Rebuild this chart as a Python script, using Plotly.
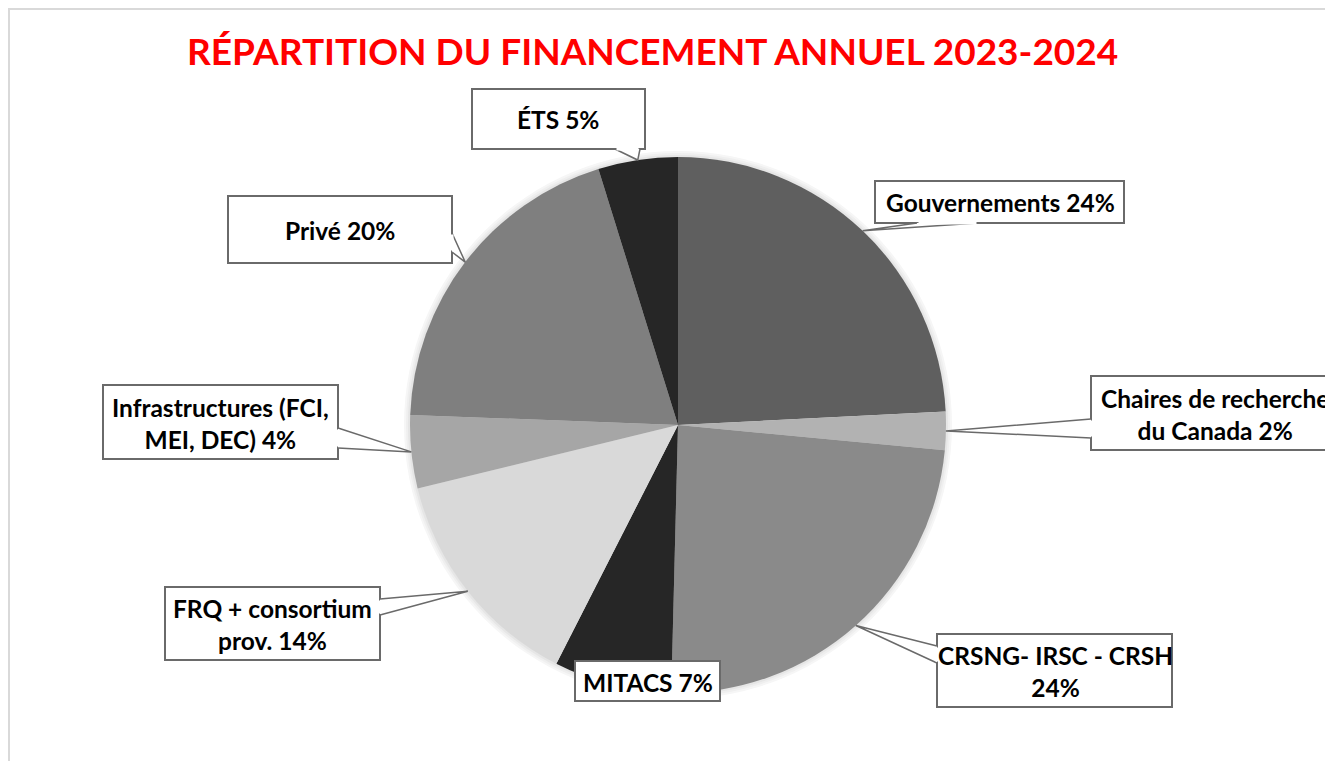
import math
import plotly.graph_objects as go

# ---------------- data ----------------
categories = ["Gouvernements", "Chaires de recherche<br>du Canada", "CRSNG- IRSC - CRSH",
              "MITACS", "FRQ + consortium<br>prov.", "Infrastructures (FCI,<br>MEI, DEC)",
              "Privé", "ÉTS"]
values = [24.2, 2.3, 23.9, 7.1, 13.7, 4.4, 19.6, 4.8]
pct_sep = [" ", " ", "<br>", " ", " ", " ", " ", " "]
colors = ["#5f5f5f", "#b2b2b2", "#8a8a8a", "#262626", "#d9d9d9", "#a6a6a6", "#7f7f7f", "#262626"]
title_text = "RÉPARTITION DU FINANCEMENT ANNUEL 2023-2024"

# ---------------- layout constants (pixels, screen coordinates) ----------------
W, H = 1333, 761
OFF = 8  # page body margin
CX, CY, R = 678, 425, 268
FONT = "Lato"
BORDER = "#6a6a6a"

# label boxes (x0, y0, x1, y1), text centres, wedge bases
boxes = [(875, 181, 1124, 223), (1091, 376, 1345, 450), (937, 634, 1172, 707),
         (575, 661, 720, 701), (165, 587, 380, 660), (103, 385, 338, 459),
         (228, 196, 452, 263), (472, 89, 645, 149)]
text_pos = [(1000, 203), (1215, 414), (1055, 671), (648, 682), (272, 624),
            (220, 423), (340, 230), (558, 119)]
bases = [((917, 223), (978, 223)), ((1091, 419), (1091, 438)), ((937, 646), (937, 663)),
         None, ((380, 599), (380, 615)), ((338, 428), (338, 448)),
         ((452, 233), (452, 252)), ((615, 149), (640, 149))]


def px(x):
    return (x - OFF) / W


def py(y):
    return 1 - (y - OFF) / H


def domain(r):
    return dict(x=[px(CX - r), px(CX + r)], y=[py(CY + r), py(CY - r)])


fig = go.Figure()

# soft glow behind the pie
for dr, col in [(6, "#f6f6f6"), (4, "#efefef"), (2, "#e6e6e6")]:
    fig.add_trace(go.Pie(values=[1], marker=dict(colors=[col], line=dict(width=0)),
                         textinfo="none", hoverinfo="skip", sort=False,
                         domain=domain(R + dr), showlegend=False))

fig.add_trace(go.Pie(
    labels=[c.replace("<br>", " ") for c in categories], values=values,
    marker=dict(colors=colors, line=dict(width=0)),
    sort=False, direction="clockwise", rotation=0,
    textinfo="none", hoverinfo="label+percent",
    domain=domain(R), showlegend=False))

shapes = []
annotations = []

# frame
shapes.append(dict(type="rect", xref="paper", yref="paper",
                   x0=px(9), y0=py(9), x1=px(1360), y1=py(790),
                   line=dict(color="#d9d9d9", width=2), fillcolor="rgba(0,0,0,0)",
                   layer="below"))

total = sum(values)
cum = 0.0
for i, v in enumerate(values):
    mid = 2 * math.pi * (cum + v / 2) / total
    cum += v
    tx = CX + R * math.sin(mid)
    ty = CY - R * math.cos(mid)
    x0, y0, x1, y1 = boxes[i]
    shapes.append(dict(type="rect", xref="paper", yref="paper",
                       x0=px(x0), y0=py(y1), x1=px(x1), y1=py(y0),
                       line=dict(color=BORDER, width=2), fillcolor="white"))
    b = bases[i]
    if b is not None:
        (ax, ay), (bx, by) = b
        path = f"M {px(ax)},{py(ay)} L {px(tx)},{py(ty)} L {px(bx)},{py(by)}"
        shapes.append(dict(type="path", xref="paper", yref="paper", path=path,
                           line=dict(color=BORDER, width=1.5), fillcolor="white"))
        # open the box border where the wedge joins
        if ay == by:
            gx0, gx1, gy0, gy1 = ax + 1.5, bx - 1.5, ay, by
        else:
            gx0, gx1, gy0, gy1 = ax, bx, ay + 1.5, by - 1.5
        shapes.append(dict(type="line", xref="paper", yref="paper",
                           x0=px(gx0), y0=py(gy0), x1=px(gx1), y1=py(gy1),
                           line=dict(color="white", width=3)))
    label = f"{categories[i]}{pct_sep[i]}{round(v)}%"
    annotations.append(dict(x=px(text_pos[i][0]), y=py(text_pos[i][1]),
                            xref="paper", yref="paper", text=label, showarrow=False,
                            xanchor="center", yanchor="middle", align="center",
                            font=dict(family=FONT, size=24.5, color="black", weight="bold")))

annotations.append(dict(x=px(652), y=py(50), xref="paper", yref="paper",
                        text=title_text, showarrow=False, xanchor="center", yanchor="middle",
                        font=dict(family=FONT, size=37, color="#ff0000", weight="bold")))

fig.update_layout(width=W, height=H, margin=dict(l=0, r=0, t=0, b=0),
                  paper_bgcolor="white", plot_bgcolor="white",
                  shapes=shapes, annotations=annotations, showlegend=False)

fig.write_html("out.html")
